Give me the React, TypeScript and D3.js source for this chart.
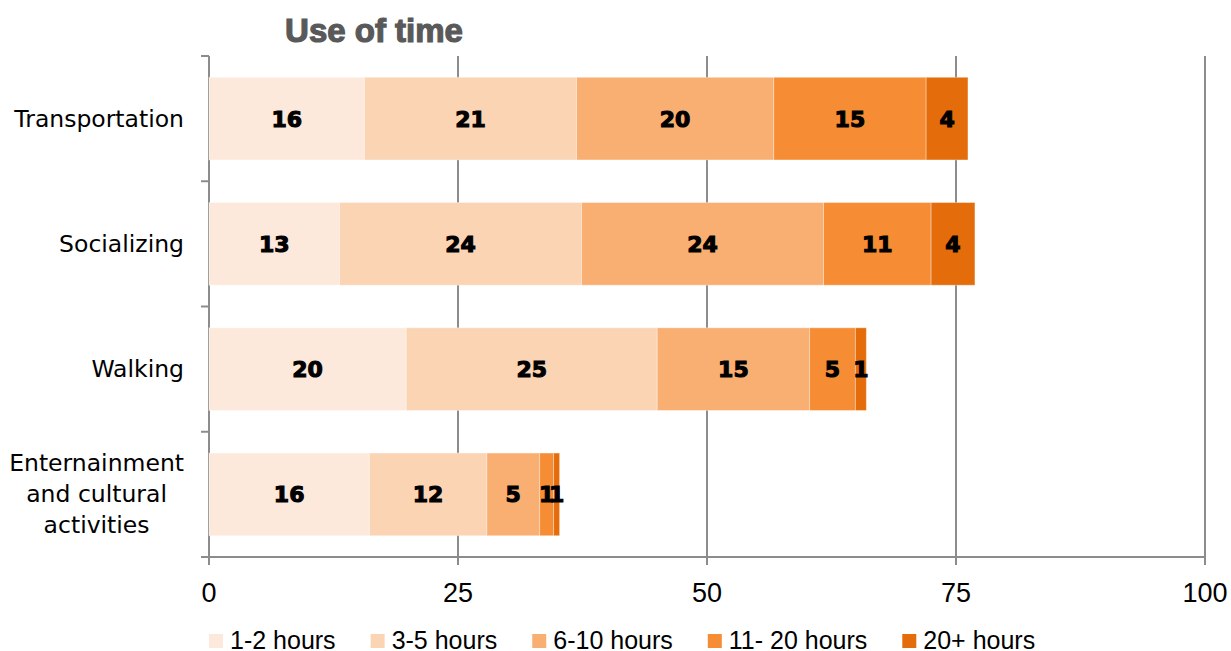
import React, { useRef, useEffect } from 'react';
import * as d3 from 'd3';

// chart data
const categories = ['Transportation', 'Socializing', 'Walking', 'Entertainment'];
const categoryLines = [
  ['Transportation'],
  ['Socializing'],
  ['Walking'],
  ['Enternainment', 'and cultural', 'activities'],
];
const seriesNames = ['1-2 hours', '3-5 hours', '6-10 hours', '11- 20 hours', '20+ hours'];
const hours1to2 = [15.6, 13.1, 19.8, 16.1];
const hours3to5 = [21.3, 24.3, 25.2, 11.8];
const hours6to10 = [19.8, 24.3, 15.3, 5.3];
const hours11to20 = [15.3, 10.8, 4.6, 1.4];
const hours20plus = [4.2, 4.4, 1.1, 0.6];
const xTicks = [0, 25, 50, 75, 100];
const colors = ['#FDE9DB', '#FBD4B4', '#F9AF72', '#F68C33', '#E46C0A'];

function UseOfTimeChart() {
  const ref = useRef<SVGSVGElement>(null);
  const width = 1231;
  const height = 651;
  const margin = { top: 56, right: 26, bottom: 94, left: 209 };

  useEffect(() => {
    const svg = d3.select(ref.current);
    svg.selectAll('*').remove();

    const seriesValues = [hours1to2, hours3to5, hours6to10, hours11to20, hours20plus];
    const rows = categories.map((c, i) => {
      const row: any = { category: c };
      seriesNames.forEach((s, j) => (row[s] = seriesValues[j][i]));
      return row;
    });
    const stacked = d3.stack().keys(seriesNames)(rows);

    const x = d3.scaleLinear().domain([0, 100]).range([margin.left, width - margin.right]);
    const y = d3
      .scaleBand()
      .domain(categories)
      .range([margin.top, height - margin.bottom])
      .paddingInner(0.34)
      .paddingOuter(0.17);
    const axisBottom = height - margin.bottom;
    const grey = '#8c8c8c';

    // gridlines
    svg
      .append('g')
      .selectAll('line')
      .data(xTicks.filter((t) => t > 0))
      .join('line')
      .attr('x1', (d) => x(d))
      .attr('x2', (d) => x(d))
      .attr('y1', margin.top)
      .attr('y2', axisBottom + 8)
      .attr('stroke', grey)
      .attr('stroke-width', 2);

    // x axis line + y axis line
    svg
      .append('line')
      .attr('x1', margin.left - 8)
      .attr('x2', x(100))
      .attr('y1', axisBottom)
      .attr('y2', axisBottom)
      .attr('stroke', grey)
      .attr('stroke-width', 2);
    svg
      .append('line')
      .attr('x1', x(0))
      .attr('x2', x(0))
      .attr('y1', margin.top)
      .attr('y2', axisBottom + 8)
      .attr('stroke', grey)
      .attr('stroke-width', 2);

    // y category ticks
    const step = y.step();
    svg
      .append('g')
      .selectAll('line')
      .data(d3.range(categories.length + 1))
      .join('line')
      .attr('x1', margin.left - 8)
      .attr('x2', margin.left)
      .attr('y1', (d) => margin.top + d * step)
      .attr('y2', (d) => margin.top + d * step)
      .attr('stroke', grey)
      .attr('stroke-width', 2);

    // tick labels
    svg
      .append('g')
      .selectAll('text')
      .data(xTicks)
      .join('text')
      .attr('x', (d) => x(d))
      .attr('y', axisBottom + 45)
      .attr('text-anchor', 'middle')
      .attr('font-family', 'Liberation Sans, Arial, sans-serif')
      .attr('font-size', 27)
      .attr('fill', '#000')
      .text((d) => d);

    // bars
    const groups = svg
      .append('g')
      .selectAll('g')
      .data(stacked)
      .join('g')
      .attr('fill', (d, i) => colors[i]);

    groups
      .selectAll('rect')
      .data((d) => d)
      .join('rect')
      .attr('x', (d) => x(d[0]))
      .attr('width', (d) => x(d[1]) - x(d[0]))
      .attr('y', (d: any) => y(d.data.category)!)
      .attr('height', y.bandwidth())
      .attr('stroke', '#ffffff')
      .attr('stroke-opacity', 0.35)
      .attr('stroke-width', 1);

    // value labels
    groups
      .selectAll('text')
      .data((d) => d)
      .join('text')
      .attr('x', (d) => (x(d[0]) + x(d[1])) / 2)
      .attr('y', (d: any) => y(d.data.category)! + y.bandwidth() / 2 + 8)
      .attr('text-anchor', 'middle')
      .attr('font-family', 'DejaVu Sans, sans-serif')
      .attr('font-weight', 'bold')
      .attr('font-size', 22)
      .attr('fill', '#000')
      .attr('stroke', '#000')
      .attr('stroke-width', 1.1)
      .text((d) => Math.round(d[1] - d[0]));

    // category labels
    const labelRight = margin.left - 25;
    const lineH = 31;
    categories.forEach((c, i) => {
      const lines = categoryLines[i];
      const cy = y(c)! + y.bandwidth() / 2;
      const t = svg
        .append('text')
        .attr('font-family', 'DejaVu Sans, sans-serif')
        .attr('font-size', 23.5)
        .attr('fill', '#000');
      const spans = lines.map((l, k) =>
        t
          .append('tspan')
          .attr('y', cy + 8 + (k - (lines.length - 1) / 2) * lineH)
          .text(l)
      );
      if (lines.length === 1) {
        t.attr('text-anchor', 'end');
        spans[0].attr('x', labelRight);
      } else {
        const widest = d3.max(spans, (s) => (s.node() as SVGTSpanElement).getComputedTextLength()) || 0;
        t.attr('text-anchor', 'middle');
        spans.forEach((s) => s.attr('x', labelRight - widest / 2));
      }
    });

    // title
    svg
      .append('text')
      .attr('x', 374)
      .attr('y', 42)
      .attr('text-anchor', 'middle')
      .attr('font-family', 'Liberation Sans, Arial, sans-serif')
      .attr('font-weight', 'bold')
      .attr('font-size', 33)
      .attr('fill', '#595959')
      .attr('stroke', '#595959')
      .attr('stroke-width', 1.2)
      .text('Use of time');

    // legend
    const legend = svg.append('g');
    let lx = margin.left;
    seriesNames.forEach((s, i) => {
      legend
        .append('rect')
        .attr('x', lx)
        .attr('y', 634)
        .attr('width', 14)
        .attr('height', 14)
        .attr('fill', colors[i]);
      const txt = legend
        .append('text')
        .attr('x', lx + 21)
        .attr('y', 649)
        .attr('font-family', 'Liberation Sans, Arial, sans-serif')
        .attr('font-size', 25)
        .attr('fill', '#000')
        .text(s);
      lx += 21 + (txt.node() as SVGTextElement).getComputedTextLength() + 35;
    });
  }, []);

  return <svg ref={ref} width={width} height={height} style={{ display: 'block' }}></svg>;
}

export default function App() {
  return (
    <div style={{ position: 'absolute', left: 0, top: 0, background: '#fff' }}>
      <UseOfTimeChart />
    </div>
  );
}
